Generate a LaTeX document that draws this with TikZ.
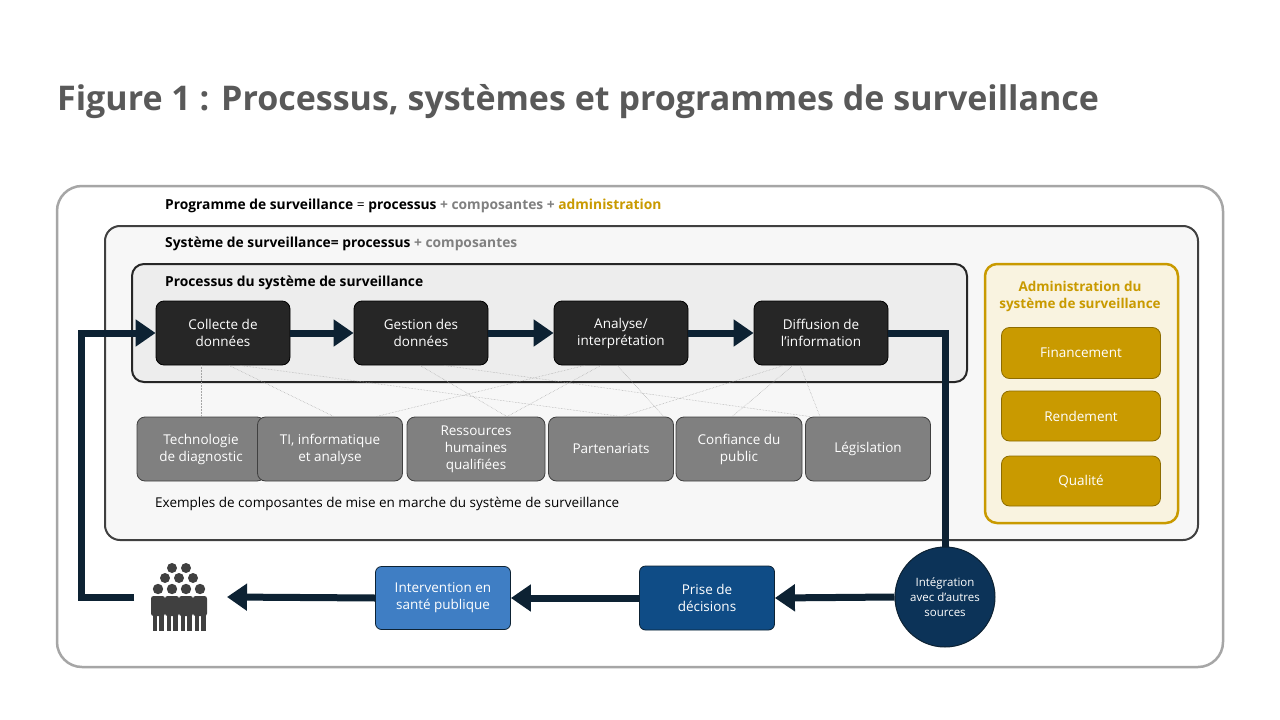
\documentclass[tikz,border=0pt]{standalone}
\usepackage{fontspec}
\setmainfont{Open Sans}
\usetikzlibrary{arrows.meta}
\definecolor{navy}{HTML}{0D2233}
\definecolor{gold}{HTML}{C99A00}
\definecolor{gtxt}{HTML}{808080}
\definecolor{circ}{HTML}{0C3358}
\definecolor{prise}{HTML}{0F4C86}
\definecolor{interv}{HTML}{3F7EC4}
\begin{document}
\begin{tikzpicture}[x=1pt,y=-1pt,
  flow/.style={navy,line width=7pt},
  ar/.style={-{Triangle[length=20pt,width=26pt]}},
  blk/.style={draw=black,line width=0.8pt,fill=black!85,rounded corners=8pt,text=white,align=center,font=\fontsize{13.5}{17}\selectfont,inner sep=0pt},
  gry/.style={draw=black!75,line width=0.8pt,fill=gtxt,rounded corners=8pt,text=white,align=center,font=\fontsize{13.5}{17}\selectfont,inner sep=0pt},
  gld/.style={draw=gold!70!black,line width=0.8pt,fill=gold,rounded corners=8pt,text=white,align=center,font=\fontsize{13.5}{16}\selectfont,inner sep=0pt},
  dot/.style={gray!70,line width=0.5pt,densely dotted},
  lbl/.style={anchor=west,inner sep=0pt,font=\fontsize{13.8}{15}\selectfont\bfseries}]
\useasboundingbox (0,0) rectangle (1280,720);
\fill[white] (0,0) rectangle (1280,720);
\node[anchor=west,inner sep=0pt,text=black!65,font=\fontsize{34}{38}\selectfont\bfseries] (title) at (57,102) {Figure 1 : Processus, systèmes et programmes de surveillance};
% outer
\draw[black!35,line width=2.5pt,rounded corners=25pt] (57,186) rectangle (1223,667);
\node[lbl] (l1) at (165,206) {Programme de surveillance \mdseries=\bfseries{} processus \textcolor{gtxt}{+ composantes +} \textcolor{gold}{administration}};
\draw[black!75,line width=2pt,fill=black!3,rounded corners=15pt] (105,226) rectangle (1198,540);
\node[lbl] (l2) at (165,244) {Système de surveillance= processus \textcolor{gtxt}{+ composantes}};
\draw[black!85,line width=2pt,fill=black!7,rounded corners=12pt] (132,264) rectangle (967,382);
\node[lbl] (l3) at (165,283) {Processus du système de surveillance};
% process boxes
\node[blk,minimum width=134pt,minimum height=64pt] (c) at (223,333) {Collecte de\\données};
\node[blk,minimum width=134pt,minimum height=64pt] (g) at (421,333) {Gestion des\\données};
\node[blk,minimum width=134pt,minimum height=64pt] (a) at (621,333) {Analyse/\\interprétation};
\node[blk,minimum width=134pt,minimum height=64pt] (d) at (821,333) {Diffusion de\\l’information};
% components
\node[gry,minimum width=128pt,minimum height=64pt] (t1) at (201,449) {Technologie\\de diagnostic};
\node[gry,minimum width=145pt,minimum height=64pt] (t2) at (330,449) {TI, informatique\\et analyse};
\node[gry,minimum width=138pt,minimum height=64pt] (t3) at (476,449) {Ressources\\humaines\\qualifiées};
\node[gry,minimum width=125pt,minimum height=64pt] (t4) at (611,449) {Partenariats};
\node[gry,minimum width=126pt,minimum height=64pt] (t5) at (739,449) {Confiance du\\public};
\node[gry,minimum width=125pt,minimum height=64pt] (t6) at (868,449) {Législation};
\node[anchor=west,inner sep=0pt,font=\fontsize{13.5}{15}\selectfont] (ex) at (155,504) {Exemples de composantes de mise en marche du système de surveillance};
% dotted links
\draw[dot] (c.south -| t1.north) -- (t1.north);
\draw[dot] ([xshift=6pt]c.south) -- ([xshift=4pt]t2.north);
\draw[dot] ([xshift=17pt]c.south) -- ([xshift=11pt]t4.north);
\draw[dot] ([xshift=-1pt]g.south) -- ([xshift=31pt]t3.north);
\draw[dot] ([xshift=23pt]g.south) -- ([xshift=-58pt]t6.north);
\draw[dot] ([xshift=-36pt]a.south) -- ([xshift=46pt]t2.north);
\draw[dot] ([xshift=-20pt]a.south) -- ([xshift=31pt]t3.north);
\draw[dot] ([xshift=-4pt]a.south) -- ([xshift=53pt]t4.north);
\draw[dot] ([xshift=-37pt]d.south) -- ([xshift=11pt]t4.north);
\draw[dot] ([xshift=-28pt]d.south) -- ([xshift=-7pt]t5.north);
\draw[dot] ([xshift=-21pt]d.south) -- ([xshift=-48pt]t6.north);
% administration
\draw[gold,line width=2.5pt,fill=gold!12,rounded corners=12pt] (985,264) rectangle (1178,523);
\node[text=gold,align=center,font=\fontsize{13.5}{17}\selectfont\bfseries,inner sep=0pt] (adm) at (1080,296) {Administration du\\système de surveillance};
\node[gld,minimum width=159pt,minimum height=51pt] (f1) at (1081,353) {Financement};
\node[gld,minimum width=159pt,minimum height=50pt] (f2) at (1081,416) {Rendement};
\node[gld,minimum width=159pt,minimum height=50pt] (f3) at (1081,481) {Qualité};
% bottom row
\node[circle,draw=navy,line width=1pt,fill=circ,minimum size=100pt,text=white,align=center,font=\fontsize{11.5}{15}\selectfont,inner sep=0pt] (i) at (945,597) {Intégration\\avec d’autres\\sources};
\node[draw=navy,line width=0.8pt,fill=prise,rounded corners=6pt,minimum width=135pt,minimum height=64pt,text=white,align=center,font=\fontsize{13.5}{17}\selectfont] (p) at (707,598) {Prise de\\décisions};
\node[draw=navy,line width=0.8pt,fill=interv,rounded corners=6pt,minimum width=135pt,minimum height=63pt,text=white,align=center,font=\fontsize{13.5}{17}\selectfont] (iv) at (443,598) {Intervention en\\santé publique};
% people icon
\begin{scope}[fill=black!75]
\foreach \x/\y in {172/568,186/568,165/578,179/578,193/578}
  \fill (\x,\y) circle (5pt);
\foreach \x in {158,172,186,200}{
  \fill (\x,589) circle (5.2pt);
  \fill[rounded corners=2.5pt] (\x-7,596) rectangle (\x+7,616);
  \fill (\x-5.5,610) rectangle (\x-0.7,631);
  \fill (\x+0.7,610) rectangle (\x+5.5,631);}
\end{scope}
% flows
\draw[flow,ar] (c) -- (g);
\draw[flow,ar] (g) -- (a);
\draw[flow,ar] (a) -- (d);
\draw[flow] (d.east) -- (945,333) -- (i.north);
\draw[flow,ar] (i.west) -- (p.east);
\draw[flow,ar] (p.west) -- (iv.east);
\draw[flow,ar] (iv.west) -- (227,597);
\draw[flow,ar] (134,597) -- (81,597) -- (81,333) -- (c.west);
\end{tikzpicture}
\end{document}
